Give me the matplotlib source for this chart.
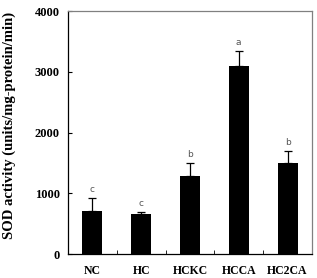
import numpy as np
import matplotlib.pyplot as plt

groups = ["NC", "HC", "HCKC", "HCCA", "HC2CA"]
sod = [710, 660, 1290, 3090, 1500]
sod_err = [210, 30, 210, 250, 200]
letters = ["c", "c", "b", "a", "b"]

plt.rcParams['font.family'] = ['Liberation Serif', 'DejaVu Serif']

fig = plt.figure(figsize=(3.17, 2.78), dpi=100)
ax = fig.add_axes([0.2145, 0.0863, 0.7695, 0.874])

x = np.arange(len(groups))
ax.bar(x, sod, width=0.41, color="black", zorder=2)
ax.errorbar(x, sod, yerr=[np.zeros(len(sod)), sod_err], fmt="none",
            ecolor="black", elinewidth=0.9, capsize=3, capthick=0.9, zorder=3)

for xi, v, e, t in zip(x, sod, sod_err, letters):
    ax.annotate(t, (xi, v + e), xytext=(0, 3), textcoords="offset points",
                ha="center", va="bottom", fontsize=6.5, color="#555555",
                family="DejaVu Sans")

ax.set_xlim(-0.5, len(groups) - 0.5)
ax.set_ylim(0, 4000)
ax.set_yticks([0, 1000, 2000, 3000, 4000])
ax.set_xticks(x)
ax.set_xticklabels(groups, fontweight="bold", fontsize=8.5)
ax.set_xticks(x[:-1] + 0.5, minor=True)
ax.tick_params(axis="x", which="major", length=0, pad=8)
ax.tick_params(axis="x", which="minor", direction="in", length=3)
ax.tick_params(axis="y", direction="in", length=3, labelsize=9, pad=6)
for lab in ax.get_yticklabels():
    lab.set_fontweight("bold")

ax.set_ylabel("SOD activity (units/mg-protein/min)", fontweight="bold",
              fontsize=10.5)
ax.yaxis.set_label_coords(-0.215, 0.53)

for s in ["top", "right"]:
    ax.spines[s].set_color("#808080")
for s in ax.spines.values():
    s.set_linewidth(0.9)

fig.savefig("out.png", dpi=100)
